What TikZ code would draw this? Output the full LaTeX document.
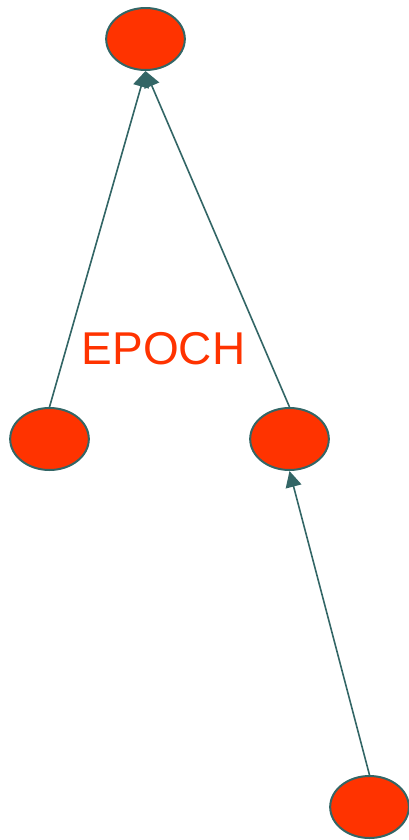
\documentclass[tikz,border=0pt]{standalone}
\usepackage{fontspec}
\setmainfont{Liberation Sans}
\usepackage{tikz}
\usetikzlibrary{shapes, arrows.meta, positioning}
\definecolor{epochred}{RGB}{255,51,0}
\definecolor{edgeteal}{RGB}{51,102,102}
\tikzset{
  blob/.style={ellipse, draw=edgeteal, fill=epochred, line width=1.5pt, minimum width=59pt, minimum height=46.5pt, inner sep=0pt},
  link/.style={draw=edgeteal, line width=1.2pt, -{Triangle[length=12pt,width=12pt]}}
}

\begin{document}
\begin{tikzpicture}[x=0.75pt, y=-0.75pt]
  \useasboundingbox (0,0) rectangle (409,840);
\node[blob] (top) at (145.5,39) {};
\node[blob] (left) at (49.5,439) {};
\node[blob] (right) at (289.5,439) {};
\node[blob] (bottom) at (369.5,807) {};
\node[text=epochred, font=\fontsize{34.5pt}{36pt}\selectfont] (epoch) at (163.5,349) {EPOCH};
\path
	(left.north) edge [link] (top.south)
	(right.north) edge [link] (top.south)
	(bottom.north) edge [link] (right.south)
;
\end{tikzpicture}
\end{document}
